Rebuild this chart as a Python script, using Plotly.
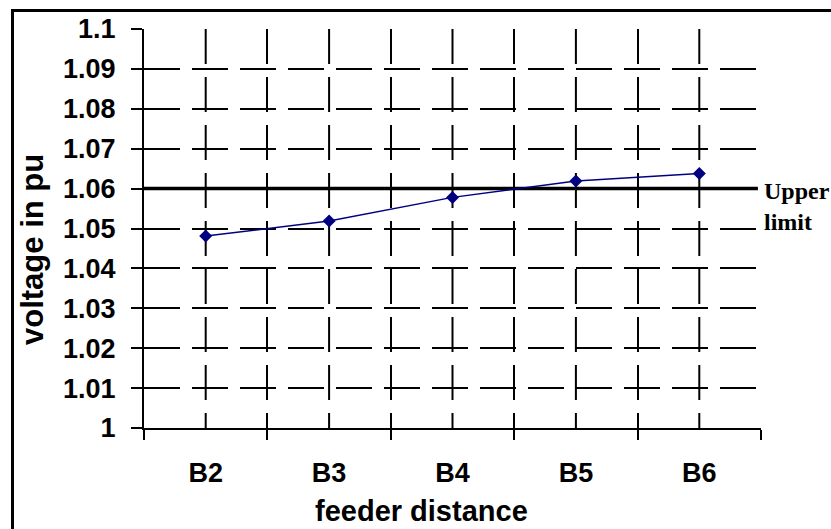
import plotly.graph_objects as go

# ---- data ----
categories = ["B2", "B3", "B4", "B5", "B6"]
voltage_pu = [1.0481, 1.0519, 1.0578, 1.0619, 1.0638]
upper_limit = 1.06
y_tick_values = [1.00, 1.01, 1.02, 1.03, 1.04, 1.05, 1.06, 1.07, 1.08, 1.09, 1.10]
y_tick_labels = ["1", "1.01", "1.02", "1.03", "1.04", "1.05", "1.06", "1.07", "1.08", "1.09", "1.1"]
x_title = "feeder distance"
y_title = "voltage in pu"
limit_label = "Upper<br>limit"

W, H = 831, 529
L, T = 144, 29
PW, PH = 617, 399
R, B = W - L - PW, H - T - PH


# helpers converting window pixel positions to paper coordinates
def px_x(p):
    return (p - L) / PW


def px_y(p):
    return (T + PH - p) / PH


fig = go.Figure()
fig.add_trace(go.Scatter(
    x=categories, y=voltage_pu, mode="lines+markers",
    line=dict(color="#000080", width=1.5),
    marker=dict(symbol="diamond", size=10, color="#000080"),
    showlegend=False, hoverinfo="x+y",
))

shapes = []
# gridlines at category centres
for c in categories:
    shapes.append(dict(type="line", xref="x", yref="y domain", x0=c, x1=c, y0=1, y1=0,
                       line=dict(color="black", width=2, dash="35px,13px"), layer="below"))
# upper limit line
shapes.append(dict(type="line", xref="x domain", yref="y", x0=0, x1=0.995,
                   y0=upper_limit, y1=upper_limit,
                   line=dict(color="black", width=3.5), layer="below"))
# outer frame
shapes.append(dict(type="rect", xref="paper", yref="paper",
                   x0=px_x(12.5), x1=px_x(900), y0=px_y(600), y1=px_y(10.5),
                   line=dict(color="black", width=3), fillcolor="rgba(0,0,0,0)", layer="above"))

annotations = [
    dict(text=x_title, xref="paper", yref="paper", x=px_x(421.5), y=px_y(529),
         xanchor="center", yanchor="bottom", showarrow=False,
         font=dict(family="Liberation Sans", size=29, weight="bold", color="black")),
    dict(text=y_title, xref="paper", yref="paper", x=px_x(32), y=px_y(250),
         xanchor="center", yanchor="middle", showarrow=False, textangle=-90,
         font=dict(family="Liberation Sans", size=31, weight="bold", color="black")),
    dict(text=limit_label, xref="paper", yref="paper", x=px_x(762), y=px_y(206),
         xanchor="left", yanchor="middle", align="left", showarrow=False,
         font=dict(family="Liberation Serif", size=24, weight="bold", color="black")),
]

fig.update_layout(
    width=W, height=H,
    margin=dict(l=L, r=R, t=T, b=B, pad=0),
    paper_bgcolor="white", plot_bgcolor="white",
    shapes=shapes, annotations=annotations,
    xaxis=dict(
        type="category", range=[-0.5, 4.5], tickson="boundaries",
        showline=True, linecolor="black", linewidth=2,
        ticks="outside", ticklen=10, tickwidth=2, tickcolor="black",
        showgrid=True, gridcolor="black", gridwidth=2, griddash="35px,13px",
        zeroline=False, ticklabelstandoff=20,
        tickfont=dict(family="Liberation Sans", size=27, weight="bold", color="black"),
    ),
    yaxis=dict(
        range=[1.0, 1.1], tickmode="array", tickvals=y_tick_values, ticktext=y_tick_labels,
        showline=True, linecolor="black", linewidth=2,
        ticks="outside", ticklen=11, tickwidth=2, tickcolor="black",
        showgrid=True, gridcolor="black", gridwidth=2, griddash="36px,12px",
        zeroline=False, ticklabelstandoff=10,
        tickfont=dict(family="Liberation Sans", size=27, weight="bold", color="black"),
    ),
)

fig.write_html(
    "out.html",
    config={"displayModeBar": False},
    post_script="document.body.style.margin='0';document.body.style.overflow='hidden';",
)
